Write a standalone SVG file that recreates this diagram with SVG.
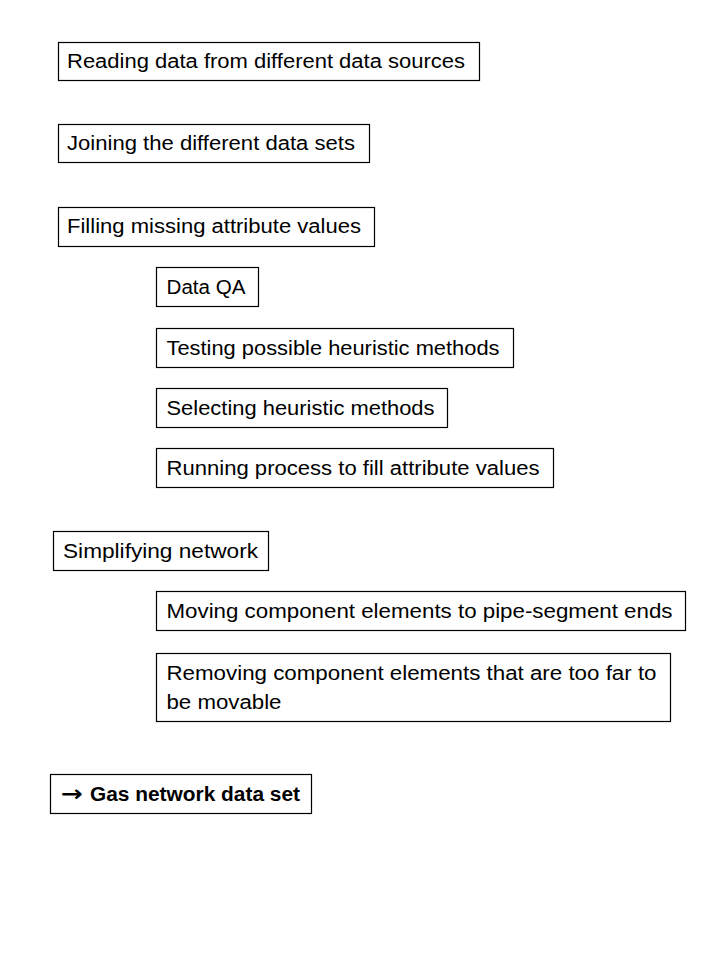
<svg xmlns="http://www.w3.org/2000/svg" width="720" height="960" viewBox="0 0 720 960">
<style>
rect.box{fill:#fff;stroke:#000;stroke-width:1.2}
text{font-family:"Liberation Sans",Arial,sans-serif;font-size:20px;fill:#000}
.b{font-weight:bold}
.arr{font-family:"DejaVu Sans",sans-serif;font-size:22px;font-weight:bold}
</style>
<rect width="720" height="960" fill="#fff"/>
<g id="connectors"/>
<g id="n1"><rect class="box" x="58.5" y="42.5" width="421" height="38"/><text x="67" y="68" textLength="398" lengthAdjust="spacingAndGlyphs">Reading data from different data sources</text></g>
<g id="n2"><rect class="box" x="58.5" y="124.5" width="311" height="38"/><text x="67" y="150" textLength="288" lengthAdjust="spacingAndGlyphs">Joining the different data sets</text></g>
<g id="n3"><rect class="box" x="58.5" y="207.5" width="316" height="39"/><text x="67" y="233" textLength="294" lengthAdjust="spacingAndGlyphs">Filling missing attribute values</text></g>
<g id="n4"><rect class="box" x="156.5" y="267.5" width="102" height="39"/><text x="166.5" y="294" textLength="79" lengthAdjust="spacingAndGlyphs">Data QA</text></g>
<g id="n5"><rect class="box" x="156.5" y="328.5" width="357" height="39"/><text x="166.5" y="355" textLength="333" lengthAdjust="spacingAndGlyphs">Testing possible heuristic methods</text></g>
<g id="n6"><rect class="box" x="156.5" y="388.5" width="291" height="39"/><text x="166.5" y="415" textLength="268" lengthAdjust="spacingAndGlyphs">Selecting heuristic methods</text></g>
<g id="n7"><rect class="box" x="156.5" y="448.5" width="397" height="39"/><text x="166.5" y="475" textLength="373" lengthAdjust="spacingAndGlyphs">Running process to fill attribute values</text></g>
<g id="n8"><rect class="box" x="53.5" y="531.5" width="215" height="39"/><text x="63" y="558" textLength="195" lengthAdjust="spacingAndGlyphs">Simplifying network</text></g>
<g id="n9"><rect class="box" x="156.5" y="591.5" width="529" height="39"/><text x="166.5" y="618" textLength="506" lengthAdjust="spacingAndGlyphs">Moving component elements to pipe-segment ends</text></g>
<g id="n10"><rect class="box" x="156.5" y="653.5" width="514" height="68"/><text x="166.5" y="680" textLength="490" lengthAdjust="spacingAndGlyphs">Removing component elements that are too far to</text><text x="166.5" y="709" textLength="115" lengthAdjust="spacingAndGlyphs">be movable</text></g>
<g id="n11"><rect class="box" x="50.5" y="774.5" width="261" height="39"/><text x="61" y="801" class="arr" textLength="22" lengthAdjust="spacingAndGlyphs">→</text><text x="90" y="801" class="b" textLength="210" lengthAdjust="spacingAndGlyphs">Gas network data set</text></g>
</svg>
